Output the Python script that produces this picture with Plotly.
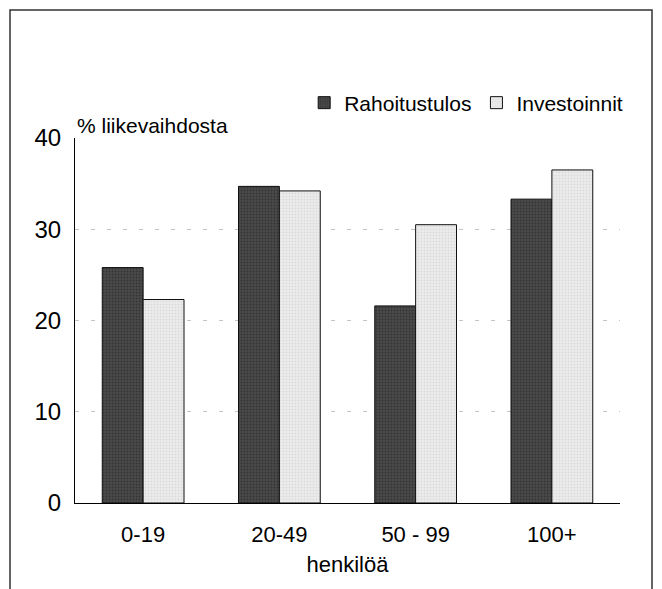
import plotly.graph_objects as go

categories = ["0-19", "20-49", "50 - 99", "100+"]
rahoitustulos = [25.8, 34.7, 21.6, 33.3]
investoinnit = [22.3, 34.2, 30.5, 36.5]
series_names = ["Rahoitustulos", "Investoinnit"]
y_ticks = [0, 10, 20, 30, 40]

FONT = "Liberation Sans Narrow, Arial Narrow, Liberation Sans, Arial, sans-serif"

# plot area in figure coords: x 67..612, y 130..495
L, R, T, B = 67, 50, 130, 94
PW, PH = 662 - L - R, 589 - T - B

fig = go.Figure()
fig.add_trace(go.Bar(
    x=categories, y=rahoitustulos, name=series_names[0],
    marker=dict(color="#333333", line=dict(color="#111", width=1),
                pattern=dict(shape=".", size=3, solidity=0.3, fgcolor="#1c1c1c", bgcolor="#4a4a4a")),
))
fig.add_trace(go.Bar(
    x=categories, y=investoinnit, name=series_names[1],
    marker=dict(color="#e2e2e2", line=dict(color="#111", width=1),
                pattern=dict(shape=".", size=3, solidity=0.3, fgcolor="#c8c8c8", bgcolor="#ececec")),
))

fig.update_layout(
    width=662, height=589,
    margin=dict(l=L, r=R, t=T, b=B),
    paper_bgcolor="white", plot_bgcolor="white",
    font=dict(family=FONT, size=22, color="black"),
    barmode="group", bargap=0.4, bargroupgap=0,
    showlegend=True,
    legend=dict(orientation="h", x=1.015, xanchor="right", y=1 + 35 / PH, yanchor="middle",
                font=dict(size=21), itemwidth=30, tracegroupgap=0,
                bgcolor="rgba(0,0,0,0)"),
    xaxis=dict(showline=True, linecolor="black", linewidth=1, ticks="",
               showgrid=False, tickfont=dict(size=22), ticklabelstandoff=12,
               title=dict(text="henkilöä", font=dict(size=22), standoff=10)),
    yaxis=dict(range=[0, 40], tickvals=y_ticks, showline=True, linecolor="black",
               linewidth=1, ticks="", showgrid=True, gridcolor="#c4c4c4",
               griddash="4px,12px", gridwidth=1, zeroline=False,
               tickfont=dict(size=24), ticklabelstandoff=8),
    annotations=[dict(text="% liikevaihdosta", xref="paper", yref="paper",
                      x=0.0, y=1 + 13 / PH, xanchor="left", yanchor="middle",
                      showarrow=False, font=dict(size=21))],
    shapes=[dict(type="rect", xref="paper", yref="paper",
                 x0=(2 - L) / PW, x1=(644 - L) / PW, y0=-(620 - 495) / PH, y1=1 + (T - 2) / PH,
                 line=dict(color="#333", width=1.5))],
)

fig.write_html("out.html")
